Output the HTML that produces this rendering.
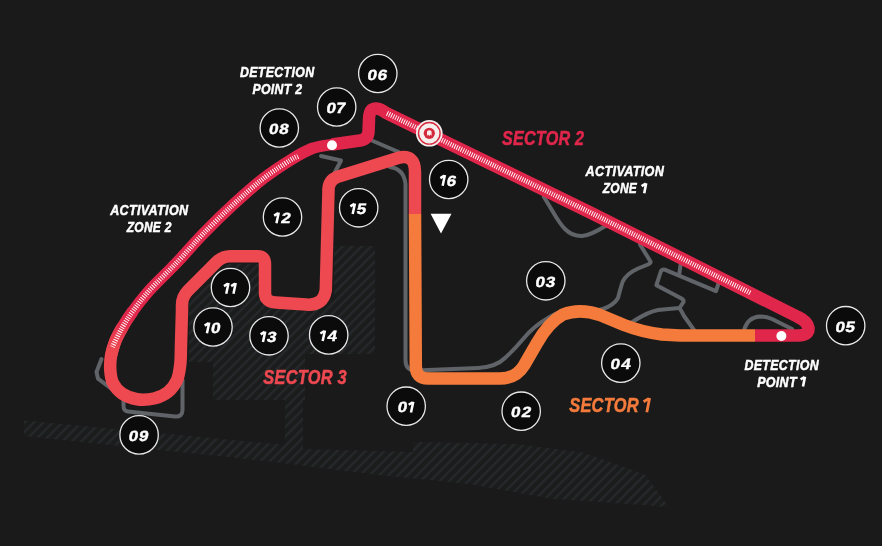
<!DOCTYPE html>
<html><head><meta charset="utf-8">
<style>
html,body{margin:0;padding:0;background:#1a1a1a;width:882px;height:546px;overflow:hidden}
svg{display:block;will-change:transform}
.t{font-family:"Liberation Sans",sans-serif;font-weight:bold;font-style:italic}
</style></head>
<body>
<svg width="882" height="546" viewBox="0 0 882 546">
<defs>
<pattern id="hatch" patternUnits="userSpaceOnUse" width="6.7" height="6.7" patternTransform="rotate(45)">
<rect width="6.7" height="6.7" fill="#1b1c1c"/>
<rect width="2.2" height="6.7" fill="#26292b"/>
</pattern>
<linearGradient id="g23" gradientUnits="userSpaceOnUse" x1="0" y1="316" x2="0" y2="350">
<stop offset="0" stop-color="#e0264b"/><stop offset="1" stop-color="#ee4850"/>
</linearGradient>
</defs>
<rect width="882" height="546" fill="#1a1a1a"/>

<!-- hatched areas -->
<g fill="url(#hatch)">
<path d="M189 300 L222 264 L262 264 L262 300 L334 300 L334 246 L375 246 L375 354 L305 354 L305 400 L213 400 L213 362 L189 362 Z"/>
<path d="M24 420.5 L285 445 L285 400 L303 400 L303 449 L413 452 L413 442 L516 444 L584 452.7 L645 474.8 L669 507 L550 498.6 L470 484 L379 475 L270 461.5 L24 436 Z"/>
</g>
<!-- grey old layout -->
<g fill="none" stroke="#606468" stroke-width="4" stroke-linejoin="round" stroke-linecap="round">
<path d="M101.5 359 L96.5 372 L98 378.6 L111 388.5"/>
<path d="M123.5 396 L123.5 406 Q123.5 411 128 411.5 L175 416.5 Q182.5 417 182.5 410 L182.5 380"/>
<path d="M321 156 L341 160.5 L334 174 L328 184"/>
<path d="M373 141 L397.5 151.5 L404 156"/>
<path d="M390 167 Q404 169 405.5 184 L405.5 360 Q405.5 371 416 370.5 L478 368 Q496 367 505 358 Q514 350 524 338 Q534 326 548 318 Q570 304 595 309"/>
<path d="M543.7 196.5 L552 210.2 Q560 224 565 229 Q572 236.3 582 236 Q592 234.5 604 226.7 L610 225"/>
<path d="M640 244.5 L650.5 261.5 Q651 263 648 264.5 L638 268.5 Q626 274 622.5 282 Q620 290 618 298 Q614 305 603 309 L590 312"/>
<path d="M680.7 264 L679.3 273.7"/>
<path d="M719 282 L716 291.1 L664.7 269.6 Q662 269 661 271 L656.4 285.2 L681.6 298.5 Q684 300 683.5 302 L679.5 308"/>
<path d="M679.5 308 Q668 309 658 310 Q648 312 635 320.3 L625 327"/>
<path d="M679.5 308 Q682 312 684 316 L694 330"/>
<path d="M744 330 Q748 317 760 316.5 Q766 316.5 772 319 L792 329"/>
</g>

<!-- track -->
<g fill="none" stroke-linejoin="round" stroke-linecap="round">
<!-- sector 3 red -->
<path stroke="#ee4850" stroke-width="12.5" d="M122.0 328.0 C119.0 333.2 116.8 337.3 115.0 342.0 C113.2 346.7 111.8 351.3 111.0 356.0 C110.2 360.7 110.0 365.5 110.3 370.0 C110.6 374.5 111.0 379.1 113.0 383.0 C115.0 386.9 118.0 390.8 122.0 393.5 C126.0 396.2 131.7 398.5 137.0 399.3 C142.3 400.1 148.8 399.7 154.0 398.5 C159.2 397.3 164.2 395.1 168.0 392.0 C171.8 388.9 174.9 384.7 177.0 380.0 C179.1 375.3 179.6 369.8 180.3 364.0 C181.0 358.2 180.7 354.0 181.0 345.0 C181.3 336.0 181.8 315.8 182.0 310.0 L182 305 Q182 296.6 188 290.6 L216.4 262.2 Q222.4 256.2 230 256.2 L258 256.2 Q265 256.2 265 264 L265 293 Q265 302 276 302.5 L306 304.5 Q323.5 306 325.8 290 L328.5 190 Q328.5 180.5 337 177 L398 158 Q415 153.5 415 172 L415 214"/>
<!-- sector 1 orange -->
<path stroke="#f47b3c" stroke-width="12.5" stroke-linecap="butt" d="M415 214 L415.8 366 Q415.8 378.5 428 378.5 L500 378.5 Q516 378.5 524 365.5 L537 343 Q549 322 563 314.5 Q580 308 600 315 L624 325 Q642 332 662 334.5 L680 335.5 L755 335.5"/>
<!-- sector 2 crimson -->
<path stroke="#e0264b" stroke-width="12.5" stroke-linecap="butt" d="M755 335.5 L798 335.5 Q809 335.5 808.5 328 Q807.5 321.5 798 317 L592 213.3 L386 112.8 Q377 106.5 372 109.5 Q369 112.5 369 120 L368.5 132 Q368 139 360 140.5 L332 144.5"/>
<path stroke="#e0264b" stroke-width="11.5" d="M332.0 144.5 C328.7 145.2 319.0 145.9 312.0 148.5 C305.0 151.1 298.2 155.2 290.0 160.3 C281.8 165.4 272.5 171.4 263.0 178.8 C253.5 186.2 242.9 195.7 233.0 204.8 C223.1 213.9 212.0 224.8 203.5 233.5 C195.0 242.2 188.3 250.2 182.0 257.0 C175.7 263.8 171.2 268.2 165.5 274.0 C159.8 279.8 153.4 285.8 148.0 292.0 C142.6 298.2 137.3 305.0 133.0 311.0"/>
<path stroke="url(#g23)" stroke-width="12" stroke-linecap="butt" d="M133 311 C128.7 317.0 125.0 322.8 122.0 328.0 C119.0 333.2 116.8 337.3 115.0 342.0 C113.2 346.7 111.7 353.7 111.0 356.0"/>
<!-- dashes activation zones -->
<path stroke="#ffffff" stroke-width="5" stroke-linecap="butt" stroke-dasharray="0.95 1.4" d="M387 113.3 L592 213.3 L751 293.3"/>
<path stroke="#ffffff" stroke-width="5" stroke-linecap="butt" stroke-dasharray="0.95 1.4" d="M298.0 156.3 C296.7 157.0 295.8 156.6 290.0 160.3 C284.2 164.1 272.5 171.4 263.0 178.8 C253.5 186.2 242.9 195.7 233.0 204.8 C223.1 213.9 212.0 224.8 203.5 233.5 C195.0 242.2 188.3 250.2 182.0 257.0 C175.7 263.8 171.2 268.2 165.5 274.0 C159.8 279.8 153.4 285.8 148.0 292.0 C142.6 298.2 137.3 305.0 133.0 311.0 C128.7 317.0 125.4 322.0 122.0 328.0 C118.6 334.0 114.0 343.8 112.4 347.0"/>
</g>

<!-- detection dots -->
<circle cx="332" cy="145.2" r="5" fill="#fff"/>
<circle cx="781.4" cy="336" r="5" fill="#fff"/>

<!-- speed trap -->
<g>
<circle cx="429.3" cy="133.3" r="13.3" fill="#f6eded"/>
<circle cx="429.3" cy="133.3" r="10.8" fill="none" stroke="#d42a3c" stroke-width="1.4"/>
<circle cx="429.3" cy="133.3" r="5.6" fill="#d42a3c"/>
<path d="M427 136 L427 131.5 Q429.3 129 431.6 131.5 L431.6 136 L430.6 134.5 L429.3 136 L428 134.5 Z" fill="#f6eded"/>
</g>

<!-- triangle -->
<path d="M430.6 213.7 L451.5 213.7 L441 233.5 Z" fill="#fff"/>

<!-- turn circles -->
<g fill="#0b0b0b" stroke="#e8e8e8" stroke-width="1.3">
<circle cx="406.2" cy="406.2" r="19.2"/>
<circle cx="521.2" cy="411.2" r="19.2"/>
<circle cx="545.8" cy="280.8" r="19.2"/>
<circle cx="620.8" cy="363.1" r="19.2"/>
<circle cx="845.7" cy="325.7" r="19.2"/>
<circle cx="377.8" cy="73.5" r="19.2"/>
<circle cx="336.7" cy="107" r="19.2"/>
<circle cx="279.3" cy="128" r="19.2"/>
<circle cx="139.1" cy="434.9" r="19.2"/>
<circle cx="213" cy="327" r="19.2"/>
<circle cx="230.5" cy="287.5" r="19.2"/>
<circle cx="282.5" cy="217" r="19.2"/>
<circle cx="269" cy="335.8" r="19.2"/>
<circle cx="328.7" cy="334.9" r="19.2"/>
<circle cx="358.7" cy="207.8" r="19.2"/>
<circle cx="448.7" cy="179.5" r="19.2"/>
</g>
<g class="t" fill="#fff" stroke="#fff" stroke-width="0.4" font-size="14.8">
<text style="font-style:normal" transform="translate(396.90 412.40) scale(1.15 1) skewX(-9)">0</text>
<text style="font-style:normal" transform="translate(510.21 417.40) scale(1.15 1) skewX(-9)">0</text>
<text style="font-style:normal" transform="translate(520.88 417.40) scale(1.15 1) skewX(-9)">2</text>
<text style="font-style:normal" transform="translate(534.81 287.00) scale(1.15 1) skewX(-9)">0</text>
<text style="font-style:normal" transform="translate(544.90 287.00) scale(1.15 1) skewX(-9)">3</text>
<text style="font-style:normal" transform="translate(609.81 369.30) scale(1.15 1) skewX(-9)">0</text>
<text style="font-style:normal" transform="translate(620.48 369.30) scale(1.15 1) skewX(-9)">4</text>
<text style="font-style:normal" transform="translate(834.71 331.90) scale(1.15 1) skewX(-9)">0</text>
<text style="font-style:normal" transform="translate(844.80 331.90) scale(1.15 1) skewX(-9)">5</text>
<text style="font-style:normal" transform="translate(366.81 79.70) scale(1.15 1) skewX(-9)">0</text>
<text style="font-style:normal" transform="translate(376.90 79.70) scale(1.15 1) skewX(-9)">6</text>
<text style="font-style:normal" transform="translate(325.71 113.20) scale(1.15 1) skewX(-9)">0</text>
<text style="font-style:normal" transform="translate(335.22 113.20) scale(1.15 1) skewX(-9)">7</text>
<text style="font-style:normal" transform="translate(268.31 134.20) scale(1.15 1) skewX(-9)">0</text>
<text style="font-style:normal" transform="translate(278.40 134.20) scale(1.15 1) skewX(-9)">8</text>
<text style="font-style:normal" transform="translate(128.11 441.10) scale(1.15 1) skewX(-9)">0</text>
<text style="font-style:normal" transform="translate(138.20 441.10) scale(1.15 1) skewX(-9)">9</text>
<text style="font-style:normal" transform="translate(210.35 333.20) scale(1.15 1) skewX(-9)">0</text>
<text style="font-style:normal" transform="translate(280.43 223.20) scale(1.15 1) skewX(-9)">2</text>
<text style="font-style:normal" transform="translate(266.36 342.00) scale(1.15 1) skewX(-9)">3</text>
<text style="font-style:normal" transform="translate(326.63 341.10) scale(1.15 1) skewX(-9)">4</text>
<text style="font-style:normal" transform="translate(356.06 214.00) scale(1.15 1) skewX(-9)">5</text>
<text style="font-style:normal" transform="translate(446.06 185.70) scale(1.15 1) skewX(-9)">6</text>
</g>
<path fill="none" stroke="#fff" stroke-width="2.5" stroke-linecap="butt" d="M413.29 401.80 L410.99 412.40 M412.69 402.30 L408.69 404.80 M209.25 322.60 L206.95 333.20 M208.66 323.10 L204.66 325.60 M228.55 283.10 L226.25 293.70 M227.95 283.60 L223.95 286.10 M235.75 283.10 L233.45 293.70 M235.15 283.60 L231.15 286.10 M278.75 212.60 L276.45 223.20 M278.15 213.10 L274.15 215.60 M265.25 331.40 L262.95 342.00 M264.65 331.90 L260.65 334.40 M324.95 330.50 L322.65 341.10 M324.35 331.00 L320.35 333.50 M354.95 203.40 L352.65 214.00 M354.35 203.90 L350.35 206.40 M444.95 175.10 L442.65 185.70 M444.35 175.60 L440.35 178.10"/>

<!-- labels -->
<g class="t" font-size="15" text-anchor="middle" stroke-width="0.5">
<text transform="translate(277.2 76.8) scale(0.826 1)" letter-spacing="0.4" fill="#fff" stroke="#fff">DETECTION</text>
<text transform="translate(277.4 93.8) scale(0.818 1)" letter-spacing="0.4" fill="#fff" stroke="#fff">POINT 2</text>
<text transform="translate(149.3 214.8) scale(0.838 1)" letter-spacing="0.4" fill="#fff" stroke="#fff">ACTIVATION</text>
<text transform="translate(149.2 232.4) scale(0.798 1)" letter-spacing="0.4" fill="#fff" stroke="#fff">ZONE 2</text>
<text transform="translate(624.9 176.4) scale(0.842 1)" letter-spacing="0.4" fill="#fff" stroke="#fff">ACTIVATION</text>
<text transform="translate(619.9 193.2) scale(0.797 1)" letter-spacing="0.4" fill="#fff" stroke="#fff">ZONE</text>
<text transform="translate(781.7 369.9) scale(0.826 1)" letter-spacing="0.4" fill="#fff" stroke="#fff">DETECTION</text>
<text transform="translate(777.0 386.6) scale(0.831 1)" letter-spacing="0.4" fill="#fff" stroke="#fff">POINT</text>
</g>
<path d="M646.2 183.3 L644.2 193.2 M645.8 183.6 L641.6 186.2 M805 376.7 L803 386.6 M804.6 377 L800.6 379.4" fill="none" stroke="#fff" stroke-width="2.6"/>
<g class="t" font-size="19.5" text-anchor="middle" stroke-width="0.5">
<text transform="translate(543.1 144.8) scale(0.828 1)" letter-spacing="0.3" fill="#e0264b" stroke="#e0264b">SECTOR 2</text>
<text transform="translate(305.1 384.3) scale(0.840 1)" letter-spacing="0.3" fill="#ee4850" stroke="#ee4850">SECTOR 3</text>
<text transform="translate(604.0 412.2) scale(0.842 1)" letter-spacing="0.3" fill="#f47b3c" stroke="#f47b3c">SECTOR</text>
</g>
<path d="M649.6 398 L646.8 412.2 M649 398.4 L643.6 401.8" fill="none" stroke="#f47b3c" stroke-width="2.8"/>
</svg>
</body></html>
